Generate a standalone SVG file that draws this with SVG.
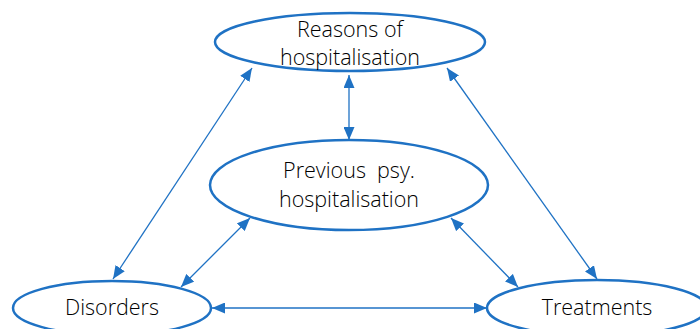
<svg xmlns="http://www.w3.org/2000/svg" width="700" height="329" viewBox="0 0 700 329">
<defs>
<style>
.node ellipse{fill:#fff;stroke:#1F72C4;stroke-width:2.5}
.lbl{font-family:"Open Sans","Noto Sans",sans-serif;font-size:21.5px;fill:#000;text-anchor:middle;font-weight:300;white-space:pre}
.conn line{stroke:#1F72C4;stroke-width:1.3}
</style>
<marker id="ah" viewBox="0 0 13 11" refX="13" refY="5.5" markerWidth="13" markerHeight="11" markerUnits="userSpaceOnUse" orient="auto-start-reverse">
<path d="M0,0 L13,5.5 L0,11 Z" fill="#1F72C4"/>
</marker>
</defs>
<rect width="700" height="329" fill="#fff"/>
<g id="connectors" class="conn">
<line x1="252" y1="68" x2="113" y2="279" marker-start="url(#ah)" marker-end="url(#ah)"/>
<line x1="447" y1="68" x2="597" y2="279" marker-start="url(#ah)" marker-end="url(#ah)"/>
<line x1="349" y1="75" x2="349" y2="140" marker-start="url(#ah)" marker-end="url(#ah)"/>
<line x1="250" y1="218" x2="181" y2="287" marker-start="url(#ah)" marker-end="url(#ah)"/>
<line x1="451" y1="218" x2="518" y2="287" marker-start="url(#ah)" marker-end="url(#ah)"/>
<line x1="212" y1="308" x2="487" y2="308" marker-start="url(#ah)" marker-end="url(#ah)"/>
</g>
<g id="reasons" class="node">
<ellipse cx="350" cy="42" rx="135" ry="29"/>
<text class="lbl" x="350" y="37">Reasons of</text>
<text class="lbl" x="350" y="65">hospitalisation</text>
</g>
<g id="previous" class="node">
<ellipse cx="349" cy="185" rx="139" ry="45"/>
<text class="lbl" x="349" y="178" xml:space="preserve">Previous  psy.</text>
<text class="lbl" x="349" y="207">hospitalisation</text>
</g>
<g id="disorders" class="node">
<ellipse cx="112" cy="308" rx="99" ry="27"/>
<text class="lbl" x="112" y="315">Disorders</text>
</g>
<g id="treatments" class="node">
<ellipse cx="597" cy="308" rx="110" ry="28"/>
<text class="lbl" x="597" y="315">Treatments</text>
</g>
</svg>
